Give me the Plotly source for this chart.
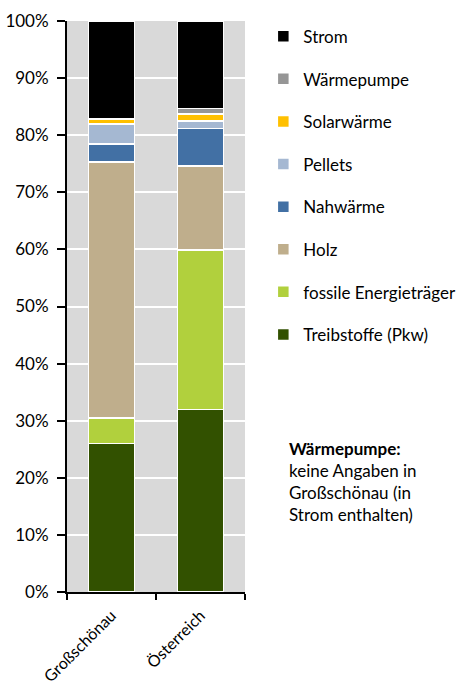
import plotly.graph_objects as go

categories = ["Großschönau", "Österreich"]
series_names = ["Treibstoffe (Pkw)", "fossile Energieträger", "Holz", "Nahwärme",
                "Pellets", "Solarwärme", "Wärmepumpe", "Strom"]
treibstoffe = [26.0, 32.0]
fossile = [4.5, 27.9]
holz = [44.8, 14.7]
nahwaerme = [3.2, 6.6]
pellets = [3.5, 1.3]
solar = [0.8, 1.2]
waermepumpe = [0.0, 1.0]
strom = [17.2, 15.3]
values = [treibstoffe, fossile, holz, nahwaerme, pellets, solar, waermepumpe, strom]
colors = ["#325100", "#B1D03D", "#BFAE8C", "#4270A4", "#A5B8D2", "#FFC000", "#969696", "#000000"]
y_ticks = [0, 10, 20, 30, 40, 50, 60, 70, 80, 90, 100]
y_tick_labels = [f"{v}%" for v in y_ticks]

FONT = "Lato, Carlito, Calibri, sans-serif"
FS = 17

fig = go.Figure()
n = len(series_names)
for i, (name, vals, col) in enumerate(zip(series_names, values, colors)):
    fig.add_trace(go.Bar(
        x=categories, y=vals, name=name, legendgroup=name,
        legendrank=n - i,
        marker=dict(color=col, line=dict(color="white", width=1.5)),
        width=0.52,
    ))

fig.update_layout(
    barmode="stack",
    width=457, height=684,
    margin=dict(l=67, r=212, t=21, b=92, autoexpand=False),
    paper_bgcolor="white",
    plot_bgcolor="#D9D9D9",
    font=dict(family=FONT, size=FS, color="black"),
    showlegend=True,
    legend=dict(
        traceorder="grouped",
        tracegroupgap=17.5,
        x=1.103, xanchor="left", y=1.004, yanchor="top",
        font=dict(family=FONT, size=FS, color="black"),
        itemwidth=30,
        bgcolor="rgba(0,0,0,0)",
    ),
    xaxis=dict(
        showline=True, linecolor="black", linewidth=2,
        ticks="outside", tickson="boundaries", ticklen=6, tickwidth=2, tickcolor="black",
        tickangle=-45, showgrid=False, automargin=False, ticklabelstandoff=6,
        tickfont=dict(family=FONT, size=16),
    ),
    yaxis=dict(
        range=[0, 100], tickvals=y_ticks, ticktext=y_tick_labels,
        showline=True, linecolor="black", linewidth=2,
        ticks="outside", ticklen=8, tickwidth=2, tickcolor="black",
        showgrid=True, gridcolor="white", gridwidth=1.5, ticklabelstandoff=5,
        zeroline=False, automargin=False,
        tickfont=dict(family=FONT, size=FS),
    ),
)

fig.add_annotation(
    xref="paper", yref="paper", x=1.236, y=0.2725, xanchor="left", yanchor="top",
    align="left", showarrow=False,
    text="<b>Wärmepumpe:</b><br>keine Angaben in<br>Großschönau (in<br>Strom enthalten)",
    font=dict(family=FONT, size=FS, color="black"),
)

fig.write_html("out.html", config={"displayModeBar": False},
               post_script="document.body.style.margin='0';")
